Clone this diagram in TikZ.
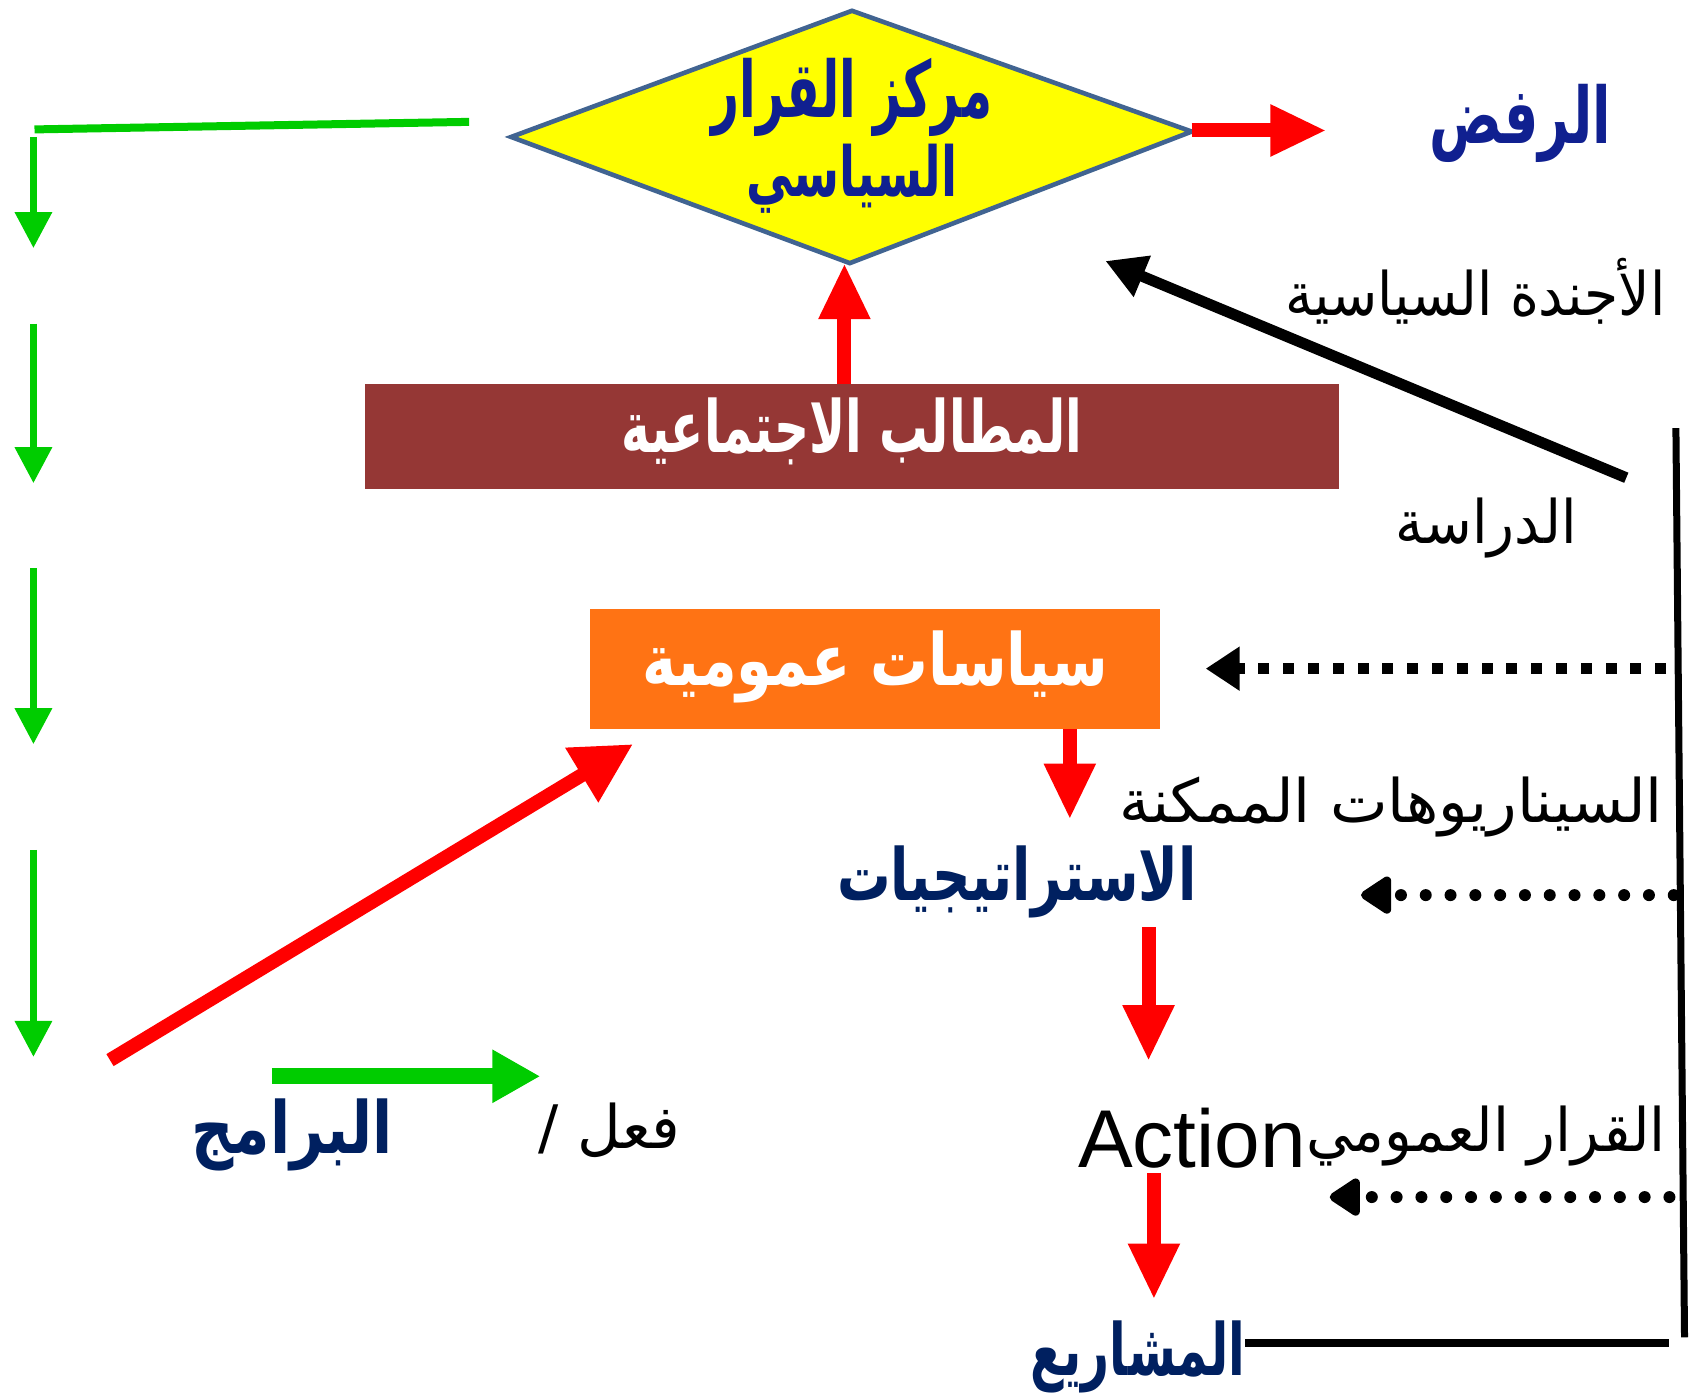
\documentclass[tikz,border=0pt]{standalone}
\usepackage{fontspec}
\usepackage{graphicx}
\setmainfont{Liberation Sans}
\newfontfamily\arabicfont[Script=Arabic]{DejaVu Sans}
\TeXXeTstate=1
\usetikzlibrary{arrows.meta}
\definecolor{dyellow}{RGB}{255,255,0}
\definecolor{dborder}{RGB}{65,100,145}
\definecolor{tblue}{RGB}{16,32,144}
\definecolor{tnavy}{RGB}{0,32,96}
\definecolor{dmaroon}{RGB}{149,55,53}
\definecolor{dorange}{RGB}{255,115,20}
\definecolor{dgreen}{RGB}{0,204,0}
\begin{document}
\begin{tikzpicture}[x=0.5392pt,y=-0.5392pt,
  txt/.style={inner sep=0pt, outer sep=0pt},
  redarrow/.style={draw=red, line width=7pt, -{Triangle[length=28pt,width=24pt]}},
  greenarrow/.style={draw=dgreen, line width=3.4pt, -{Triangle[length=18pt,width=18pt]}},
  greenbig/.style={draw=dgreen, line width=8pt, -{Triangle[length=24pt,width=25pt]}},
  blackarrow/.style={draw=black, line width=5.5pt, -{Triangle[length=20pt,width=21pt]}},
  sqdots/.style={draw=black, line width=5.5pt, dash pattern=on 5.5pt off 6.9pt, -{Triangle[length=17pt,width=21pt]}},
  rddots/.style={draw=black, line width=6pt, line cap=round, dash pattern=on 0pt off 12.4pt, -{Triangle[length=17pt,width=21pt,round=false]}},
  boldblue/.style={txt, text=tblue, font=\arabicfont\fontsize{30pt}{36pt}\selectfont\bfseries},
  boldnavy/.style={txt, text=tnavy, font=\arabicfont\fontsize{30pt}{36pt}\selectfont\bfseries},
  boldwhite/.style={txt, text=white, font=\arabicfont\fontsize{30pt}{36pt}\selectfont\bfseries},
  plain/.style={txt, text=black, font=\arabicfont\fontsize{30pt}{36pt}\selectfont},
]
\path[use as bounding box] (0,0) rectangle (1568,1293);

% diamond
\coordinate (dL) at (474,127);
\coordinate (dT) at (790,10);
\coordinate (dR) at (1105,122);
\coordinate (dB) at (788,244);
\draw[fill=dyellow, draw=dborder, line width=2.3pt, line join=miter] (dL) -- (dT) -- (dR) -- (dB) -- cycle;
\node[boldblue] (dtop) at (790,90) {\scalebox{0.81}[1.3]{\beginR مركز القرار\endR}};
\node[boldblue] (dbot) at (790,166) {\scalebox{0.78}[1.15]{\beginR السياسي\endR}};

% refusal
\node[boldblue] (rafd) at (1410,114) {\scalebox{0.9}[1.3]{\beginR الرفض\endR}};
\coordinate (rafdin) at (1230,121);
\draw[redarrow] (dR |- 0,121) -- (rafdin);

% social demands
\node[txt, fill=dmaroon, minimum width=904*0.5392pt, minimum height=97*0.5392pt] (demand) at (790,404.5) {};
\node[boldwhite] (demandtxt) at (790,400) {\scalebox{0.81}[1.2]{\beginR المطالب الاجتماعية\endR}};
\draw[redarrow] (demand.north -| 783,0) -- (dB -| 783,0);

% agenda arrow
\coordinate (agtail) at (1508,443);
\coordinate (aghead) at (1025,242);
\draw[blackarrow] (agtail) -- (aghead);
\node[plain] (agenda) at (1368,270) {\scalebox{0.92}[1]{\beginR الأجندة السياسية\endR}};
\node[plain] (study) at (1378,490) {\scalebox{0.93}[1]{\beginR الدراسة\endR}};

% right vertical line
\coordinate (vtop) at (1554,397);
\coordinate (vbot) at (1562,1240);
\draw[line width=3.5pt] (vtop) -- (vbot);

% public policies
\node[txt, fill=dorange, minimum width=529*0.5392pt, minimum height=111*0.5392pt] (policy) at (811.5,620.5) {};
\node[boldwhite] (policytxt) at (812,618) {\scalebox{0.96}[1.2]{\beginR سياسات عمومية\endR}};
\coordinate (d1s) at (1545,620);
\coordinate (d1e) at (1118,620);
\draw[sqdots] (d1s) -- (d1e);

% scenarios
\draw[redarrow] (policy.south -| 992,0) -- (992,760) coordinate (scin);
\node[plain] (scen) at (1290,748) {\scalebox{1.02}[1]{\beginR السيناريوهات الممكنة\endR}};
\node[boldnavy] (strat) at (943,818) {\scalebox{0.89}[1.2]{\beginR الاستراتيجيات\endR}};
\coordinate (d2s) at (1552,830);
\coordinate (d2e) at (1262,830);
\draw[rddots] (d2s) -- (d2e);

% action
\coordinate (a2s) at (1065,860);
\draw[redarrow] (a2s) -- (1065,984) coordinate (a2e);
\node[txt, anchor=east, font=\fontsize{41pt}{48pt}\selectfont] (action) at (1211,1055) {Action};
\node[plain, anchor=west] (pubdec) at (1211,1053) {\scalebox{0.96}[1]{\beginR القرار العمومي\endR}};
\coordinate (d3s) at (1548,1110);
\coordinate (d3e) at (1233,1110);
\draw[rddots] (d3s) -- (d3e);

% projects
\coordinate (a3s) at (1070,1088);
\draw[redarrow] (a3s) -- (1070,1205) coordinate (a3e);
\node[boldnavy] (proj) at (1055,1258) {\scalebox{0.81}[1.2]{\beginR المشاريع\endR}};
\coordinate (projline) at (1548,1245);
\draw[line width=4pt] (proj.east |- projline) -- (projline);

% left green flow
\coordinate (gh1) at (435,113);
\coordinate (gh2) at (32,120);
\draw[draw=dgreen, line width=4pt] (gh1) -- (gh2);
\draw[greenarrow] (31,127) coordinate (g1s) -- (31,230) coordinate (g1e);
\draw[greenarrow] (31,300) coordinate (g2s) -- (31,448) coordinate (g2e);
\draw[greenarrow] (31,527) coordinate (g3s) -- (31,690) coordinate (g3e);
\draw[greenarrow] (31,788) coordinate (g4s) -- (31,980) coordinate (g4e);

% programs
\coordinate (rdS) at (102,983);
\coordinate (rdE) at (587,690);
\draw[redarrow, -{Triangle[length=30pt,width=30pt]}] (rdS) -- (rdE);
\draw[greenbig] (252,998) coordinate (gbS) -- (501,998) coordinate (gbE);
\node[boldnavy] (prog) at (271,1052) {\scalebox{0.98}[1.2]{\beginR البرامج\endR}};
\node[plain] (act) at (565,1048) {\beginR فعل /\endR};
\end{tikzpicture}
\end{document}
